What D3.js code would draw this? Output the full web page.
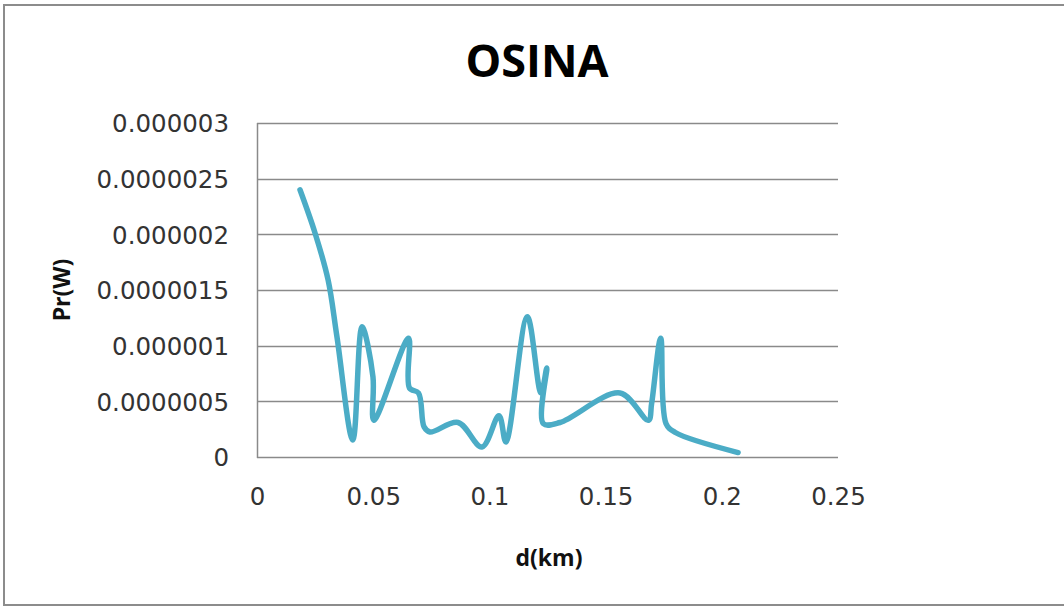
<!DOCTYPE html>
<html>
<head>
<meta charset="utf-8">
<script src="https://cdn.jsdelivr.net/npm/d3@7"></script>
<style>
  html, body { margin: 0; padding: 0; background: #fff; }
  svg { display: block; }
</style>
</head>
<body>
<svg id="chart" width="1064" height="608"></svg>
<script>
// Received power Pr (W) versus distance d (km) along the OSINA route
const distanceKm = [0.0185, 0.0250, 0.0306, 0.0344, 0.0412, 0.0452, 0.0499, 0.0503, 0.0652, 0.0656,
  0.0695, 0.0719, 0.0744, 0.0865, 0.0968, 0.1041, 0.1071, 0.1163, 0.1222, 0.1247,
  0.1232, 0.1304, 0.1562, 0.1684, 0.1698, 0.1737, 0.1760, 0.1800, 0.2070];
const powerW = [2.40e-6, 2.01e-6, 1.59e-6, 1.08e-6, 0.153e-6, 1.17e-6, 0.72e-6, 0.33e-6, 1.067e-6, 0.62e-6,
  0.575e-6, 0.27e-6, 0.225e-6, 0.31e-6, 0.09e-6, 0.37e-6, 0.135e-6, 1.26e-6, 0.575e-6, 0.80e-6,
  0.30e-6, 0.31e-6, 0.575e-6, 0.33e-6, 0.48e-6, 1.067e-6, 0.30e-6, 0.22e-6, 0.04e-6];

const xTickValues = [0, 0.05, 0.1, 0.15, 0.2, 0.25];
const xTickLabels = ["0", "0.05", "0.1", "0.15", "0.2", "0.25"];
const yTickValues = [0, 0.5e-6, 1e-6, 1.5e-6, 2e-6, 2.5e-6, 3e-6];
const yTickLabels = ["0", "0.0000005", "0.000001", "0.0000015", "0.000002", "0.0000025", "0.000003"];

const titleText = "OSINA";
const xTitle = "d(km)";
const yTitle = "Pr(W)";

const svg = d3.select("#chart");
const W = 1064, H = 608;
const plot = { left: 257, right: 838, top: 123, bottom: 457 };

svg.append("rect").attr("width", W).attr("height", H).attr("fill", "#fff");
// chart frame
svg.append("rect")
  .attr("x", 4).attr("y", 5).attr("width", W + 10).attr("height", 600)
  .attr("fill", "none").attr("stroke", "#8c8c8c").attr("stroke-width", 2);

const x = d3.scaleLinear().domain([0, 0.25]).range([plot.left, plot.right]);
const y = d3.scaleLinear().domain([0, 3e-6]).range([plot.bottom, plot.top]);

// horizontal gridlines
svg.append("g")
  .selectAll("line").data(yTickValues).join("line")
  .attr("x1", plot.left).attr("x2", plot.right)
  .attr("y1", d => Math.round(y(d)) + 0.5).attr("y2", d => Math.round(y(d)) + 0.5)
  .attr("stroke", "#8a8a8a").attr("stroke-width", 1.5);

// value axis line
svg.append("line")
  .attr("x1", plot.left + 0.5).attr("x2", plot.left + 0.5)
  .attr("y1", plot.top).attr("y2", plot.bottom + 1)
  .attr("stroke", "#8a8a8a").attr("stroke-width", 1.5);

const tickFont = "'DejaVu Sans', sans-serif";

// y tick labels
const yAxis = d3.axisLeft(y).tickValues(yTickValues)
  .tickFormat((d, i) => yTickLabels[i]).tickSize(0).tickPadding(0);
const gy = svg.append("g").attr("transform", `translate(229,0)`).call(yAxis);
gy.select(".domain").remove();
gy.selectAll("text")
  .attr("font-family", tickFont).attr("font-size", 24.5).attr("fill", "#333")
  .attr("dy", "0.36em");

// x tick labels
const xAxis = d3.axisBottom(x).tickValues(xTickValues)
  .tickFormat((d, i) => xTickLabels[i]).tickSize(0).tickPadding(0);
const gx = svg.append("g").attr("transform", `translate(0,488)`).call(xAxis);
gx.select(".domain").remove();
gx.selectAll("text")
  .attr("font-family", tickFont).attr("font-size", 24.5).attr("fill", "#333")
  .attr("dy", "0.71em");

// series
const line = d3.line()
  .x((d, i) => x(distanceKm[i]))
  .y((d, i) => y(powerW[i]))
  .curve(d3.curveCatmullRom.alpha(0.5));

svg.append("path")
  .datum(powerW)
  .attr("d", line)
  .attr("fill", "none")
  .attr("stroke", "#4bacc6")
  .attr("stroke-width", 5.5)
  .attr("stroke-linejoin", "round")
  .attr("stroke-linecap", "round");

// titles
svg.append("text")
  .attr("x", 537).attr("y", 77)
  .attr("text-anchor", "middle")
  .attr("font-family", "'Open Sans', sans-serif").attr("font-weight", 700)
  .attr("font-size", 45).attr("fill", "#000")
  .text(titleText);

svg.append("text")
  .attr("x", 549).attr("y", 557)
  .attr("text-anchor", "middle").attr("dominant-baseline", "central")
  .attr("font-family", "'Open Sans', sans-serif").attr("font-weight", 700)
  .attr("font-size", 23).attr("fill", "#111")
  .text(xTitle);

svg.append("text")
  .attr("transform", "translate(61,290) rotate(-90)")
  .attr("text-anchor", "middle").attr("dominant-baseline", "central")
  .attr("font-family", "'Open Sans', sans-serif").attr("font-weight", 700)
  .attr("font-size", 23).attr("fill", "#111")
  .text(yTitle);
</script>
</body>
</html>
